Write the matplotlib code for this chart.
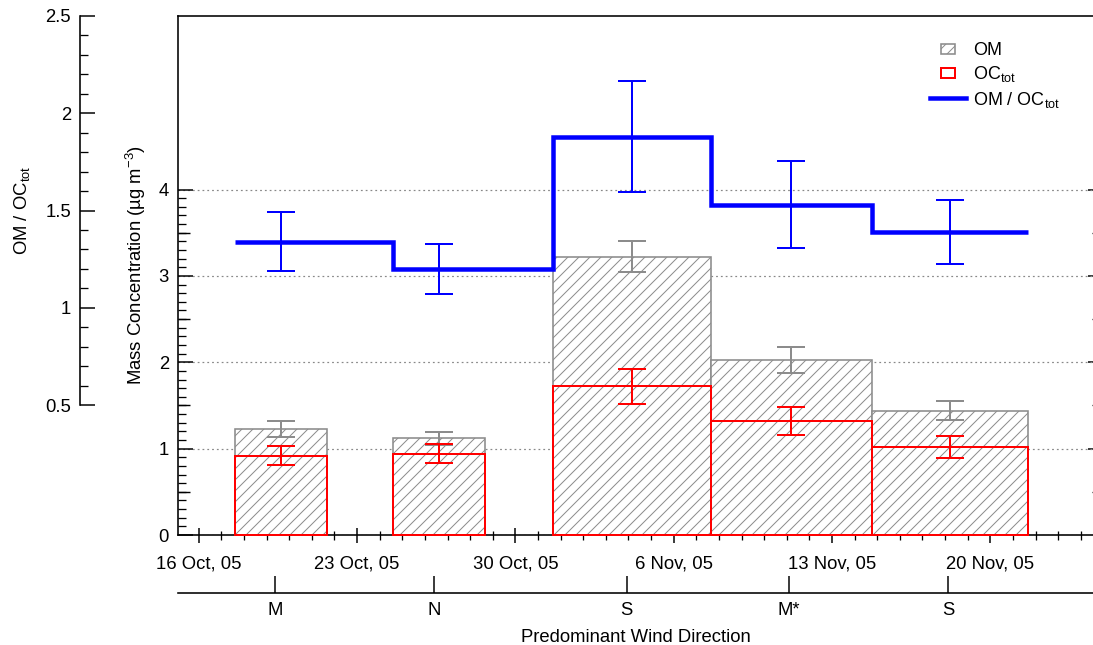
import numpy as np
import pandas as pd
import matplotlib
matplotlib.use("Agg")
import matplotlib.pyplot as plt
import matplotlib.dates as mdates
import matplotlib.patches as mpatches
from matplotlib.lines import Line2D
from matplotlib.legend_handler import HandlerPatch
from matplotlib.ticker import FixedLocator, NullFormatter

# sampling periods (weekly filters)
period_start = ["2005-10-17 14:00", "2005-10-24 14:00", "2005-10-31 16:00",
                "2005-11-07 16:00", "2005-11-14 18:00"]
period_end = ["2005-10-21 16:00", "2005-10-28 16:00", "2005-11-07 16:00",
              "2005-11-14 18:00", "2005-11-21 16:00"]

# mass concentrations (ug m-3)
om = [1.23, 1.12, 3.22, 2.03, 1.44]
om_err = [0.09, 0.075, 0.18, 0.15, 0.11]
oc_tot = [0.92, 0.94, 1.72, 1.32, 1.02]
oc_err = [0.11, 0.11, 0.20, 0.16, 0.13]

# OM / OCtot ratio
ratio = [1.34, 1.20, 1.88, 1.53, 1.39]
ratio_err = [0.15, 0.13, 0.285, 0.225, 0.165]

# predominant wind direction
wind_dir = ["M", "N", "S", "M*", "S"]
wind_pos = ["2005-10-19 09:00", "2005-10-26 10:00", "2005-11-03 22:00",
            "2005-11-11 02:00", "2005-11-18 03:00"]

date_ticks = ["2005-10-16", "2005-10-23", "2005-10-30", "2005-11-06",
              "2005-11-13", "2005-11-20"]
date_labels = ["16 Oct, 05", "23 Oct, 05", "30 Oct, 05", "6 Nov, 05",
               "13 Nov, 05", "20 Nov, 05"]
x_range = ["2005-10-15 02:00", "2005-11-24 14:00"]

DPI = 132
W, H = 1093, 645


def px(v):
    # pixels -> points at the output dpi
    return v * 72.0 / DPI


def dnum(lst):
    return mdates.date2num(pd.to_datetime(lst))


plt.rcParams['font.family'] = ['Liberation Sans', 'DejaVu Sans']
plt.rcParams['mathtext.fontset'] = 'custom'
plt.rcParams['mathtext.rm'] = 'Liberation Sans'
plt.rcParams['mathtext.it'] = 'Liberation Sans'
plt.rcParams['hatch.linewidth'] = px(1.0)

fs = px(18.5)
gray = '#8c8c8c'

start = dnum(period_start)
end = dnum(period_end)
centers = (start + end) / 2
edges = np.append(start, end[-1])

fig = plt.figure(figsize=(W / DPI, H / DPI), dpi=DPI)
ax = fig.add_axes([178 / W, (H - 535) / H, (1094 - 178) / W, 519 / H])
ax2 = ax.twinx()
ax3 = ax.twiny()

# bars
ax.bar(start, om, width=end - start, align='edge', facecolor='white',
       edgecolor=gray, hatch='////', linewidth=px(1.6), zorder=2, clip_on=False)
ax.bar(start, oc_tot, width=end - start, align='edge', fill=False,
       edgecolor='red', linewidth=px(2), zorder=3, clip_on=False)
ax.errorbar(centers, om, yerr=om_err, fmt='none', ecolor=gray,
            elinewidth=px(2), capsize=px(14), capthick=px(2), zorder=4)
ax.errorbar(centers, oc_tot, yerr=oc_err, fmt='none', ecolor='red',
            elinewidth=px(2), capsize=px(14), capthick=px(2), zorder=4)

xlim = dnum(x_range)
ax.set_xlim(xlim)
ax.set_ylim(0, 6.01)
ax.set_axisbelow(True)
ax.yaxis.set_major_locator(FixedLocator([0, 1, 2, 3, 4]))
ax.yaxis.set_minor_locator(FixedLocator(np.round(np.arange(0.1, 4.0, 0.1), 2)))
ax.set_yticklabels(["0", "1", "2", "3", "4"])
ax.grid(axis='y', which='major', color='#888888', linestyle=(0, (1.5, 2.5)),
        linewidth=px(1.2))
ax.tick_params(axis='y', which='major', direction='in', length=px(15),
               width=px(1.5), labelsize=fs, pad=px(9))
ax.tick_params(axis='y', which='minor', direction='in', length=px(8),
               width=px(1.3))
ax.xaxis.set_major_locator(FixedLocator(dnum(date_ticks)))
ax.xaxis.set_minor_locator(mdates.DayLocator())
ax.xaxis.set_minor_formatter(NullFormatter())
ax.set_xticklabels(date_labels)
ax.tick_params(axis='x', which='major', direction='inout', length=px(15),
               width=px(1.5), labelsize=fs, pad=px(13))
ax.tick_params(axis='x', which='minor', direction='inout', length=px(9),
               width=px(1.3))
for s in ax.spines.values():
    s.set_linewidth(px(1.6))
ax.set_ylabel("Mass Concentration (µg m$^{-3}$)", fontsize=fs)
ax.yaxis.set_label_coords(-0.033, 0.52)

# half-unit ticks on the left, short ticks on the right
half = ax.secondary_yaxis('left')
half.set_yticks([0.5, 1.5, 2.5, 3.5])
half.tick_params(direction='in', length=px(12), width=px(1.4), labelleft=False)
half.spines['left'].set_visible(False)
right = ax.secondary_yaxis('right')
right.set_yticks([1, 2, 3, 4])
right.yaxis.set_minor_locator(FixedLocator([0.5, 1.5, 2.5, 3.5]))
right.tick_params(which='major', direction='in', length=px(6), width=px(1.5),
                  labelright=False)
right.tick_params(which='minor', direction='in', length=px(2), width=px(1.3))

# ratio axis
ax2.stairs(ratio, edges, baseline=None, color='blue', linewidth=px(4.5),
           zorder=3)
ax2.errorbar(centers, ratio, yerr=ratio_err, fmt='none', ecolor='blue',
             elinewidth=px(2), capsize=px(14), capthick=px(2), zorder=4)
ax2.set_ylim(2.5 - 519 / 194.5, 2.5)
ax2.yaxis.set_ticks_position('left')
ax2.yaxis.set_label_position('left')
for k in ['right', 'top', 'bottom']:
    ax2.spines[k].set_visible(False)
ax2.spines['left'].set_position(('outward', px(98)))
ax2.spines['left'].set_bounds(0.5, 2.5)
ax2.spines['left'].set_linewidth(px(1.6))
ax2.yaxis.set_major_locator(FixedLocator([0.5, 1, 1.5, 2, 2.5]))
ax2.set_yticklabels(["0.5", "1", "1.5", "2", "2.5"])
ax2.yaxis.set_minor_locator(FixedLocator(
    [v for v in np.round(np.arange(0.6, 2.5, 0.1), 2) if round(v * 2) != v * 2]))
ax2.tick_params(which='major', direction='in', length=px(15), width=px(1.5),
                labelsize=fs, pad=px(9))
ax2.tick_params(which='minor', direction='in', length=px(8), width=px(1.3))
ax2.set_ylabel("OM / OC$_\\mathrm{tot}$", fontsize=fs)
ax2.yaxis.set_label_coords(-0.159, 0.625)

# wind direction axis
ax3.set_xlim(xlim)
for k in ['right', 'top', 'left']:
    ax3.spines[k].set_visible(False)
ax3.xaxis.set_ticks_position('bottom')
ax3.xaxis.set_label_position('bottom')
ax3.spines['bottom'].set_position(('outward', px(58)))
ax3.spines['bottom'].set_linewidth(px(1.6))
ax3.set_xticks(dnum(wind_pos))
ax3.set_xticklabels(wind_dir)
ax3.tick_params(axis='x', direction='in', length=px(17), width=px(1.5),
                labelsize=fs, pad=px(9))
ax3.set_xlabel("Predominant Wind Direction", fontsize=fs, labelpad=px(10))


# legend with small boxes
def small_box(legend, orig_handle, xdescent, ydescent, width, height, fontsize):
    w = 0.4 * width
    h = 0.8 * height
    return mpatches.Rectangle((-xdescent + (width - w) / 2,
                               -ydescent + (height - h) / 2), w, h)


h_om = mpatches.Patch(facecolor='white', edgecolor=gray, hatch='////',
                      linewidth=px(1.6))
h_oc = mpatches.Patch(facecolor='none', edgecolor='red', linewidth=px(2))
h_ratio = Line2D([], [], color='blue', linewidth=px(4.5))
ax2.legend([h_om, h_oc, h_ratio],
           ["OM", "OC$_\\mathrm{tot}$", "OM / OC$_\\mathrm{tot}$"],
           handler_map={mpatches.Patch: HandlerPatch(patch_func=small_box)},
           loc='upper left', bbox_to_anchor=(0.821, 0.95), frameon=False,
           fontsize=px(18), borderpad=0, borderaxespad=0,
           handlelength=2.0, handletextpad=0.4, labelspacing=0.3)

fig.savefig("out.png", dpi=DPI)
